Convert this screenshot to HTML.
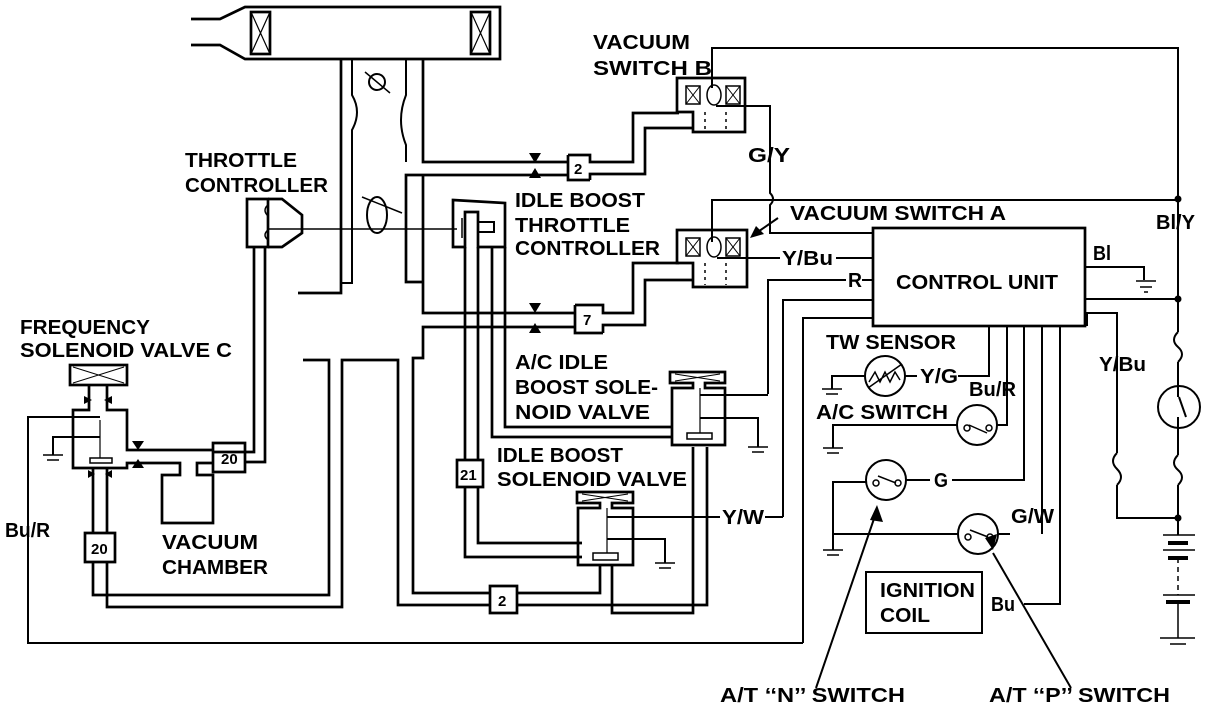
<!DOCTYPE html>
<html><head><meta charset="utf-8">
<style>
html,body{margin:0;padding:0;background:#fff;}
svg{display:block;}
text{font-family:"Liberation Sans",sans-serif;font-weight:bold;fill:#000;}
</style></head>
<body>
<svg width="1216" height="710" viewBox="0 0 1216 710" xmlns="http://www.w3.org/2000/svg">
<g fill="none" stroke="#000" stroke-width="2.7" stroke-linejoin="miter">
<!-- intake -->
<path d="M191 19 L220 19 L245 7 L500 7 L500 59 L245 59 L220 45 L191 45"/>
<rect x="251" y="12" width="19" height="42"/><path d="M251 12 L270 54 M270 12 L251 54" stroke-width="1.2"/>
<rect x="471" y="12" width="19" height="42"/><path d="M471 12 L490 54 M490 12 L471 54" stroke-width="1.2"/>
<!-- throttle body left -->
<path d="M341 59 L341 293 L298 293"/>
<path d="M352 59 L352 95 Q362 112 352 130 L352 283 L341 283" stroke-width="2"/>
<!-- right tube -->
<path d="M423 59 L423 162 L568 162"/>
<path d="M406 59 L406 95 Q396 120 406 145 L406 162" stroke-width="2"/>
<path d="M568 175 L406 175 L406 282 L423 282"/>
<path d="M423 175 L423 313 L575 313"/>
<path d="M575 327 L423 327 L423 358 L413 358 L413 593 L490 593"/>
<!-- throttle plates -->
<circle cx="377" cy="82" r="8" stroke-width="2"/><path d="M365 72 L390 93" stroke-width="1.5"/>
<ellipse cx="377" cy="215" rx="10" ry="18" stroke-width="2"/><path d="M362 197 L402 213" stroke-width="1.5"/>
<path d="M268 229 L457 229" stroke-width="1.5"/>
<!-- throttle controller -->
<path d="M247 199 L268 199 L268 247 L247 247 Z"/>
<path d="M268 199 L282 199 L302 215 L302 233 L282 247 L268 247"/>
<path d="M268 205 Q262 210 268 216 M268 240 Q262 235 268 230" stroke-width="1.5"/>
<path d="M254 247 L254 452 L213 452 M265 247 L265 462 L245 462"/>
<!-- idle boost throttle controller -->
<path d="M453 200 L505 203 L505 247 L478 247 L478 212 L465 212 L465 247 L453 247 Z"/>
<rect x="478" y="222" width="16" height="10" stroke-width="2"/>
<path d="M462 218 L462 238" stroke-width="1.5"/>
<!-- vertical tubes from idle boost controller -->
<path d="M465 247 L465 460 M478 247 L478 460 M465 487 L465 557 L582 557 M478 487 L478 543 L582 543"/>
<path d="M492 247 L492 437 L672 437 M505 247 L505 427 L672 427"/>
<!-- 2 box top -->
<path d="M568 155 L590 155 L590 162 L633 162 L633 113 L679 113 M590 180 L568 180 L568 155 M590 180 L590 174 L645 174 L645 128 L693 128"/>
<!-- 7 box -->
<path d="M575 305 L603 305 L603 313 L633 313 L633 263 L679 263 M603 333 L575 333 L575 305 M603 333 L603 325 L645 325 L645 280 L693 280"/>
<!-- vacuum switch B -->
<path d="M677 78 L745 78 L745 132 L693 132 L693 112 L677 112 Z"/>
<rect x="686" y="86" width="14" height="18" stroke-width="1.5"/><path d="M686 86 L700 104 M700 86 L686 104" stroke-width="1"/>
<ellipse cx="714" cy="95" rx="7" ry="10" stroke-width="1.5"/>
<rect x="726" y="86" width="14" height="18" stroke-width="1.5"/><path d="M726 86 L740 104 M740 86 L726 104" stroke-width="1"/>
<path d="M705 112 L705 130 M726 112 L726 130" stroke-dasharray="3,4" stroke-width="1.5"/>
<!-- vacuum switch A -->
<path d="M677 230 L747 230 L747 287 L693 287 L693 263 L677 263 Z"/>
<rect x="686" y="238" width="14" height="18" stroke-width="1.5"/><path d="M686 238 L700 256 M700 238 L686 256" stroke-width="1"/>
<ellipse cx="714" cy="247" rx="7" ry="10" stroke-width="1.5"/>
<rect x="726" y="238" width="14" height="18" stroke-width="1.5"/><path d="M726 238 L740 256 M740 238 L726 256" stroke-width="1"/>
<path d="M705 263 L705 285 M726 263 L726 285" stroke-dasharray="3,4" stroke-width="1.5"/>
<!-- wires top -->
<path d="M712 88 L712 48 L1178 48 L1178 199" stroke-width="2"/>
<path d="M712 242 L712 200 L1178 200" stroke-width="2"/>
<path d="M716 106 L770 106 L770 193 Q776 199 770 205 L770 233 L873 233" stroke-width="2"/>
<path d="M717 258 L780 258 M836 258 L873 258" stroke-width="2"/>
<path d="M768 394 L768 280 L846 280 M862 280 L873 280" stroke-width="2"/>
<path d="M783 517 L783 300 L873 300 M767 517 L783 517" stroke-width="2"/>
<path d="M803 643 L803 318 L873 318" stroke-width="2"/>
<!-- control unit -->
<rect x="873" y="228" width="212" height="98"/>
<path d="M1085 267 L1144 267 L1144 280" stroke-width="2"/>
<path d="M1136 281 L1156 281 M1140 287 L1152 287 M1144 292 L1148 292" stroke-width="1.5"/>
<path d="M1085 299 L1178 299" stroke-width="2"/>
<path d="M1087 326 L1087 313 L1117 313 L1117 453 M1117 485 L1117 518 L1178 518" stroke-width="2"/>
<!-- right main wire -->
<path d="M1178 199 L1178 332 M1178 362 L1178 397 M1178 417 L1178 455 M1178 485 L1178 535" stroke-width="2"/>
<path d="M1178 332 Q1170 340 1178 347 Q1186 354 1178 362" stroke-width="2"/>
<path d="M1178 455 Q1170 463 1178 470 Q1186 477 1178 485" stroke-width="2"/>
<path d="M1117 453 Q1109 461 1117 469 Q1125 477 1117 485" stroke-width="2"/>
<circle cx="1179" cy="407" r="21" stroke-width="2"/>
<path d="M1179 397 L1186 417" stroke-width="2"/>
<!-- battery -->
<path d="M1163 535 L1195 535 M1163 550 L1195 550 M1163 595 L1195 595 M1178 602 L1178 638 M1160 638 L1195 638 M1170 644 L1186 644" stroke-width="1.5"/>
<path d="M1168 543 L1188 543 M1168 558 L1188 558 M1166 602 L1190 602" stroke-width="4"/>
<path d="M1178 558 L1178 595" stroke-dasharray="5,4" stroke-width="1.5"/>
<!-- TW sensor -->
<circle cx="885" cy="376" r="20" stroke-width="2"/>
<path d="M869 382 L875 372 L880 382 L885 372 L890 382 L895 372 L900 380 M868 388 L902 364" stroke-width="1.5"/>
<path d="M865 376 L832 376 L832 389 M958 376 L989 376 L989 326 M905 376 L917 376" stroke-width="2"/>
<path d="M822 389 L842 389 M826 394 L838 394" stroke-width="1.5"/>
<!-- A/C switch -->
<circle cx="977" cy="425" r="20" stroke-width="2"/>
<circle cx="967" cy="428" r="3" stroke-width="1.5"/><circle cx="989" cy="428" r="3" stroke-width="1.5"/><path d="M969 425 L987 433" stroke-width="1.5"/>
<path d="M957 425 L833 425 L833 448 M997 425 L1007 425 L1007 326" stroke-width="2"/>
<path d="M823 448 L843 448 M827 453 L839 453" stroke-width="1.5"/>
<!-- N switch -->
<circle cx="886" cy="480" r="20" stroke-width="2"/>
<circle cx="876" cy="483" r="3" stroke-width="1.5"/><circle cx="898" cy="483" r="3" stroke-width="1.5"/><path d="M878 476 L896 483" stroke-width="1.5"/>
<path d="M866 482 L833 482 L833 550 M906 480 L930 480 M952 480 L1024 480 L1024 326" stroke-width="2"/>
<path d="M823 550 L843 550 M827 555 L839 555" stroke-width="1.5"/>
<!-- P switch -->
<circle cx="978" cy="534" r="20" stroke-width="2"/>
<circle cx="968" cy="537" r="3" stroke-width="1.5"/><circle cx="990" cy="537" r="3" stroke-width="1.5"/><path d="M970 530 L988 537" stroke-width="1.5"/>
<path d="M958 534 L833 534 M998 534 L1010 534 M1042 534 L1042 326" stroke-width="2"/>
<path d="M1024 604 L1060 604 L1060 326" stroke-width="2"/>
<!-- ignition coil -->
<rect x="866" y="572" width="116" height="61" stroke-width="2"/>
<!-- arrows -->
<path d="M816 688 L877 510 M1071 688 L993 553 M778 218 L752 236" stroke-width="2"/>
<!-- A/C idle boost valve -->
<path d="M670 372 L725 372 L725 383 L705 383 L705 388 L725 388 L725 445 L672 445 L672 388 L693 388 L693 383 L670 383 Z"/>
<path d="M675 374 L720 381 M720 374 L675 381" stroke-width="1"/>
<rect x="687" y="433" width="25" height="6" stroke-width="1.5"/>
<path d="M700 388 L700 433" stroke-width="1.2"/>
<path d="M700 395 L768 395 M700 418 L758 418 L758 447" stroke-width="2"/>
<path d="M748 447 L768 447 M752 452 L764 452" stroke-width="1.5"/>
<!-- idle boost valve -->
<path d="M577 492 L633 492 L633 503 L612 503 L612 508 L633 508 L633 565 L578 565 L578 508 L600 508 L600 503 L577 503 Z"/>
<path d="M582 494 L628 501 M628 494 L582 501" stroke-width="1"/>
<rect x="593" y="553" width="25" height="7" stroke-width="1.5"/>
<path d="M607 508 L607 553" stroke-width="1.2"/>
<path d="M607 517 L720 517 M765 517 L783 517 M607 539 L665 539 L665 563" stroke-width="2"/>
<path d="M655 563 L675 563 M659 568 L671 568" stroke-width="1.5"/>
<!-- lower tubes -->
<path d="M600 565 L600 593 L517 593 M612 565 L612 613 L693 613 L693 447 M707 447 L707 605 L517 605"/>
<path d="M490 586 L517 586 L517 613 L490 613 Z"/>
<path d="M490 605 L398 605 L398 360 L342 360 L342 607 L107 607 L107 562"/>
<path d="M93 562 L93 595 L329 595 L329 360 L303 360"/>
<path d="M457 460 L483 460 L483 487 L457 487 Z"/>
<path d="M213 443 L245 443 L245 472 L213 472 Z"/>
<path d="M85 533 L115 533 L115 562 L85 562 Z"/>
<path d="M93 468 L93 533 M107 468 L107 533"/>
<!-- valve C -->
<rect x="70" y="365" width="57" height="20"/>
<path d="M73 367 L124 383 M124 367 L73 383" stroke-width="1"/>
<path d="M89 385 L89 410 L73 410 L73 468 L127 468 L127 463 L180 463 L180 475 L162 475 L162 523 L213 523 L213 475 L197 475 L197 463 L213 463 M107 385 L107 410 L127 410 L127 450 L213 450"/>
<rect x="90" y="458" width="22" height="5" stroke-width="1.5"/>
<path d="M100 420 L100 458" stroke-width="1.2"/>
<path d="M100 417 L28 417 L28 643 L803 643" stroke-width="2"/>
<path d="M100 437 L53 437 L53 455" stroke-width="2"/>
<path d="M43 455 L63 455 M47 460 L59 460" stroke-width="1.5"/>
</g>
<g fill="#000">
<polygon points="529,153 541,153 535,163"/><polygon points="529,178 541,178 535,168"/>
<polygon points="529,303 541,303 535,313"/><polygon points="529,333 541,333 535,323"/>
<polygon points="132,441 144,441 138,450"/><polygon points="132,468 144,468 138,459"/>
<polygon points="84,396 84,404 92,400"/><polygon points="112,396 112,404 104,400"/>
<polygon points="88,470 88,478 95,474"/><polygon points="112,470 112,478 105,474"/>
<polygon points="877,505 870,520 883,522"/><polygon points="993,550 985,538 997,534"/>
<polygon points="750,238 756,226 764,234"/>
<circle cx="1178" cy="199" r="3.5"/><circle cx="1178" cy="299" r="3.5"/><circle cx="1178" cy="518" r="3.5"/>
</g>
<g font-size="20" lengthAdjust="spacingAndGlyphs">
<text x="593" y="49" textLength="97" lengthAdjust="spacingAndGlyphs">VACUUM</text>
<text x="593" y="75" textLength="119" lengthAdjust="spacingAndGlyphs">SWITCH B</text>
<text x="185" y="167" textLength="112" lengthAdjust="spacingAndGlyphs">THROTTLE</text>
<text x="185" y="192" textLength="143" lengthAdjust="spacingAndGlyphs">CONTROLLER</text>
<text x="515" y="207" textLength="130" lengthAdjust="spacingAndGlyphs">IDLE BOOST</text>
<text x="515" y="232" textLength="115" lengthAdjust="spacingAndGlyphs">THROTTLE</text>
<text x="515" y="255" textLength="145" lengthAdjust="spacingAndGlyphs">CONTROLLER</text>
<text x="790" y="220" textLength="216" lengthAdjust="spacingAndGlyphs">VACUUM SWITCH A</text>
<text x="748" y="162" textLength="42" lengthAdjust="spacingAndGlyphs">G/Y</text>
<text x="782" y="265" textLength="51" lengthAdjust="spacingAndGlyphs">Y/Bu</text>
<text x="848" y="287" textLength="14" lengthAdjust="spacingAndGlyphs">R</text>
<text x="896" y="289" textLength="162" lengthAdjust="spacingAndGlyphs">CONTROL UNIT</text>
<text x="1093" y="260" textLength="18" lengthAdjust="spacingAndGlyphs">Bl</text>
<text x="1156" y="229" textLength="39" lengthAdjust="spacingAndGlyphs">Bl/Y</text>
<text x="1099" y="371" textLength="47" lengthAdjust="spacingAndGlyphs">Y/Bu</text>
<text x="826" y="349" textLength="130" lengthAdjust="spacingAndGlyphs">TW SENSOR</text>
<text x="920" y="383" textLength="38" lengthAdjust="spacingAndGlyphs">Y/G</text>
<text x="969" y="396" textLength="47" lengthAdjust="spacingAndGlyphs">Bu/R</text>
<text x="816" y="419" textLength="132" lengthAdjust="spacingAndGlyphs">A/C SWITCH</text>
<text x="934" y="487" textLength="14" lengthAdjust="spacingAndGlyphs">G</text>
<text x="1011" y="523" textLength="43" lengthAdjust="spacingAndGlyphs">G/W</text>
<text x="880" y="597" textLength="95" lengthAdjust="spacingAndGlyphs">IGNITION</text>
<text x="880" y="622" textLength="50" lengthAdjust="spacingAndGlyphs">COIL</text>
<text x="991" y="611" textLength="24" lengthAdjust="spacingAndGlyphs">Bu</text>
<text x="720" y="702" textLength="185" lengthAdjust="spacingAndGlyphs">A/T ‘‘N’’ SWITCH</text>
<text x="989" y="702" textLength="181" lengthAdjust="spacingAndGlyphs">A/T ‘‘P’’ SWITCH</text>
<text x="722" y="524" textLength="42" lengthAdjust="spacingAndGlyphs">Y/W</text>
<text x="515" y="369" textLength="93" lengthAdjust="spacingAndGlyphs">A/C IDLE</text>
<text x="515" y="394" textLength="143" lengthAdjust="spacingAndGlyphs">BOOST SOLE-</text>
<text x="515" y="419" textLength="135" lengthAdjust="spacingAndGlyphs">NOID VALVE</text>
<text x="497" y="462" textLength="126" lengthAdjust="spacingAndGlyphs">IDLE BOOST</text>
<text x="497" y="486" textLength="190" lengthAdjust="spacingAndGlyphs">SOLENOID VALVE</text>
<text x="20" y="334" textLength="130" lengthAdjust="spacingAndGlyphs">FREQUENCY</text>
<text x="20" y="357" textLength="212" lengthAdjust="spacingAndGlyphs">SOLENOID VALVE C</text>
<text x="162" y="549" textLength="96" lengthAdjust="spacingAndGlyphs">VACUUM</text>
<text x="162" y="574" textLength="106" lengthAdjust="spacingAndGlyphs">CHAMBER</text>
<text x="5" y="537" textLength="45" lengthAdjust="spacingAndGlyphs">Bu/R</text>
</g>
<g font-size="15">
<text x="221" y="464">20</text>
<text x="91" y="554">20</text>
<text x="460" y="480">21</text>
<text x="498" y="606">2</text>
<text x="574" y="174">2</text>
<text x="583" y="325">7</text>
</g>
</svg>
</body></html>
